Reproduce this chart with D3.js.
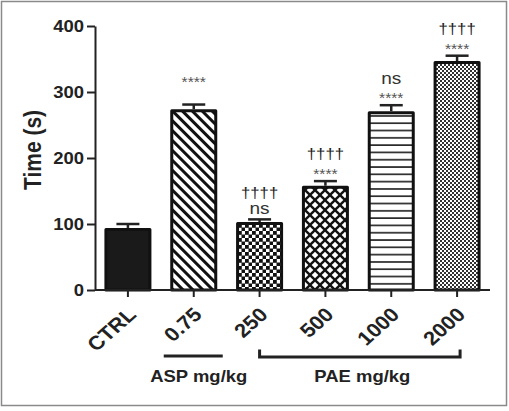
<!DOCTYPE html>
<html><head><meta charset="utf-8">
<script src="https://cdn.jsdelivr.net/npm/d3@7"></script>
<style>body{margin:0;background:#fff}text{font-family:"Liberation Sans",Arial,sans-serif}</style>
</head><body><svg id="c" width="509" height="411"></svg>
<script>
const categories = ["CTRL","0.75","250","500","1000","2000"];
const means = [94, 274, 103, 158, 271, 347];
const sems = [6, 7, 4, 7, 9, 8];
const upperMarks = ["", "****", "††††", "††††", "ns", "††††"];
const lowerMarks = ["", "", "ns", "****", "****", "****"];
const yTicks = [0, 100, 200, 300, 400];
const groupLabels = ["ASP mg/kg", "PAE mg/kg"];
const groupFrom = ["0.75", "250"];
const groupTo = ["0.75", "2000"];
const patternIds = ["solid", "diag", "check", "diamond", "hlines", "fine"];

const SX = 1.12; // horizontal text stretch
const ink = "#222";
const svg = d3.select("#c");

// frame
svg.append("rect").attr("x",1.5).attr("y",1.5).attr("width",505).attr("height",404)
  .attr("fill","none").attr("stroke","#8a8a8a").attr("stroke-width",1.5);

// patterns
const defs = svg.append("defs");
let p = defs.append("pattern").attr("id","diag").attr("patternUnits","userSpaceOnUse")
  .attr("width",7).attr("height",7).attr("patternTransform","rotate(-45)");
p.append("rect").attr("width",7).attr("height",7).attr("fill","#fff");
p.append("rect").attr("width",3).attr("height",7).attr("fill","#111");

p = defs.append("pattern").attr("id","check").attr("patternUnits","userSpaceOnUse")
  .attr("width",7).attr("height",7);
p.append("rect").attr("width",7).attr("height",7).attr("fill","#fff");
p.append("rect").attr("width",3.8).attr("height",3.8).attr("fill","#111");
p.append("rect").attr("x",3.5).attr("y",3.5).attr("width",3.5).attr("height",3.5).attr("fill","#111");

p = defs.append("pattern").attr("id","diamond").attr("patternUnits","userSpaceOnUse")
  .attr("width",10).attr("height",10);
p.append("rect").attr("width",10).attr("height",10).attr("fill","#111");
const dh = 3.3;
[[5,5],[0,0],[10,0],[0,10],[10,10]].forEach(([cx,cy])=>{
  p.append("polygon").attr("points",`${cx},${cy-dh} ${cx+dh},${cy} ${cx},${cy+dh} ${cx-dh},${cy}`).attr("fill","#fff");
});

p = defs.append("pattern").attr("id","hlines").attr("patternUnits","userSpaceOnUse")
  .attr("width",10).attr("height",7.3);
p.append("rect").attr("width",10).attr("height",7.3).attr("fill","#fff");
p.append("rect").attr("y",5.6).attr("width",10).attr("height",1.8).attr("fill","#2a2a2a");

p = defs.append("pattern").attr("id","fine").attr("patternUnits","userSpaceOnUse")
  .attr("width",4).attr("height",4);
p.append("rect").attr("width",4).attr("height",4).attr("fill","#fff");
p.append("rect").attr("width",2).attr("height",2).attr("fill","#333");
p.append("rect").attr("x",2).attr("y",2).attr("width",2).attr("height",2).attr("fill","#333");

const fillFor = id => id === "solid" ? "#1a1a1a" : `url(#${id})`;

// scales
const x = d3.scaleBand().domain(categories).range([95, 490]).paddingInner(0.286).paddingOuter(0.143);
const y = d3.scaleLinear().domain([0, 400]).range([290, 26]);
const bw = x.bandwidth();

const data = categories.map((c,i)=>({c, m:means[i], s:sems[i], up:upperMarks[i], lo:lowerMarks[i], pat:patternIds[i]}));

// error bars
const eb = svg.append("g").attr("stroke", ink).attr("stroke-width",2.5).attr("fill","none");
data.forEach(d=>{
  const cx = x(d.c)+bw/2;
  eb.append("line").attr("x1",cx).attr("x2",cx).attr("y1",y(d.m)).attr("y2",y(d.m+d.s));
  eb.append("line").attr("x1",cx-11.5).attr("x2",cx+11.5).attr("y1",y(d.m+d.s)).attr("y2",y(d.m+d.s));
});

// bars
svg.append("g").selectAll("rect").data(data).join("rect")
  .attr("x", d=>x(d.c)+1.5).attr("width", bw-3)
  .attr("y", d=>y(d.m)+1.5).attr("height", d=>y(0)-y(d.m)-1.5)
  .attr("fill", d=>fillFor(d.pat))
  .attr("stroke", "#111").attr("stroke-width",3).attr("stroke-linejoin","round");

// axes
const yAxis = d3.axisLeft(y).tickValues(yTicks).tickSize(8).tickPadding(2).tickSizeOuter(0);
const gy = svg.append("g").attr("transform","translate(95,0)").call(yAxis);
gy.select(".domain").attr("stroke",ink).attr("stroke-width",2);
gy.selectAll(".tick line").attr("stroke",ink).attr("stroke-width",2);
gy.selectAll(".tick text").attr("fill",ink).attr("font-size",16.5).attr("font-weight","bold")
  .attr("font-family","Liberation Sans, Arial, sans-serif")
  .attr("x", null).attr("dy","0.36em")
  .attr("transform", `translate(-11,0) scale(${SX},1)`);

const xAxis = d3.axisBottom(x).tickSize(7).tickSizeOuter(0);
const gx = svg.append("g").attr("transform","translate(0,290)").call(xAxis);
gx.select(".domain").attr("stroke",ink).attr("stroke-width",2).attr("d","M95,0H490");
gx.selectAll(".tick line").attr("stroke",ink).attr("stroke-width",2);
gx.selectAll(".tick text").attr("fill",ink).attr("font-size",19.5).attr("font-weight","bold")
  .attr("font-family","Liberation Sans, Arial, sans-serif")
  .attr("y", null).attr("dy","0.35em").attr("text-anchor","end")
  .attr("transform", `translate(4,21) scale(${SX},1) rotate(-45)`);

// y title
svg.append("text").text("Time (s)")
  .attr("transform", `translate(41,150) scale(${SX},1) rotate(-90)`)
  .attr("text-anchor","middle").attr("font-size",21).attr("font-weight","bold").attr("fill",ink);

// significance marks
const markStyle = {
  "****": {size:14, color:"#555", off:8.2},
  "††††": {size:15, color:"#222", off:4.2},
  "ns": {size:17, color:"#333", off:4.4}
};
function mark(txt, cx, cy){
  if(!txt) return;
  const st = markStyle[txt];
  svg.append("text").text(txt)
    .attr("transform", `translate(${cx},${cy+st.off}) scale(${SX},1)`)
    .attr("text-anchor","middle").attr("font-size",st.size).attr("fill",st.color);
}
data.forEach(d=>{
  const cx = x(d.c)+bw/2;
  const top = y(d.m+d.s);
  mark(d.lo, cx, top-10);
  mark(d.up, cx, top-26);
});

// group brackets
groupLabels.forEach((lab,i)=>{
  const a = x(groupFrom[i])+bw/2, b = x(groupTo[i])+bw/2;
  const single = groupFrom[i]===groupTo[i];
  if(single){
    svg.append("line").attr("x1",a-30).attr("x2",a+29).attr("y1",356).attr("y2",356)
      .attr("stroke",ink).attr("stroke-width",3);
  } else {
    svg.append("path").attr("d",`M${a},349.5V357H${b+3}V349.5`)
      .attr("fill","none").attr("stroke",ink).attr("stroke-width",3);
  }
  svg.append("text").text(lab)
    .attr("transform", `translate(${(a+b)/2 + (single?5:4)},381.5) scale(${SX},1)`)
    .attr("text-anchor","middle").attr("font-size",16.5).attr("font-weight","bold").attr("fill",ink);
});
</script></body></html>
